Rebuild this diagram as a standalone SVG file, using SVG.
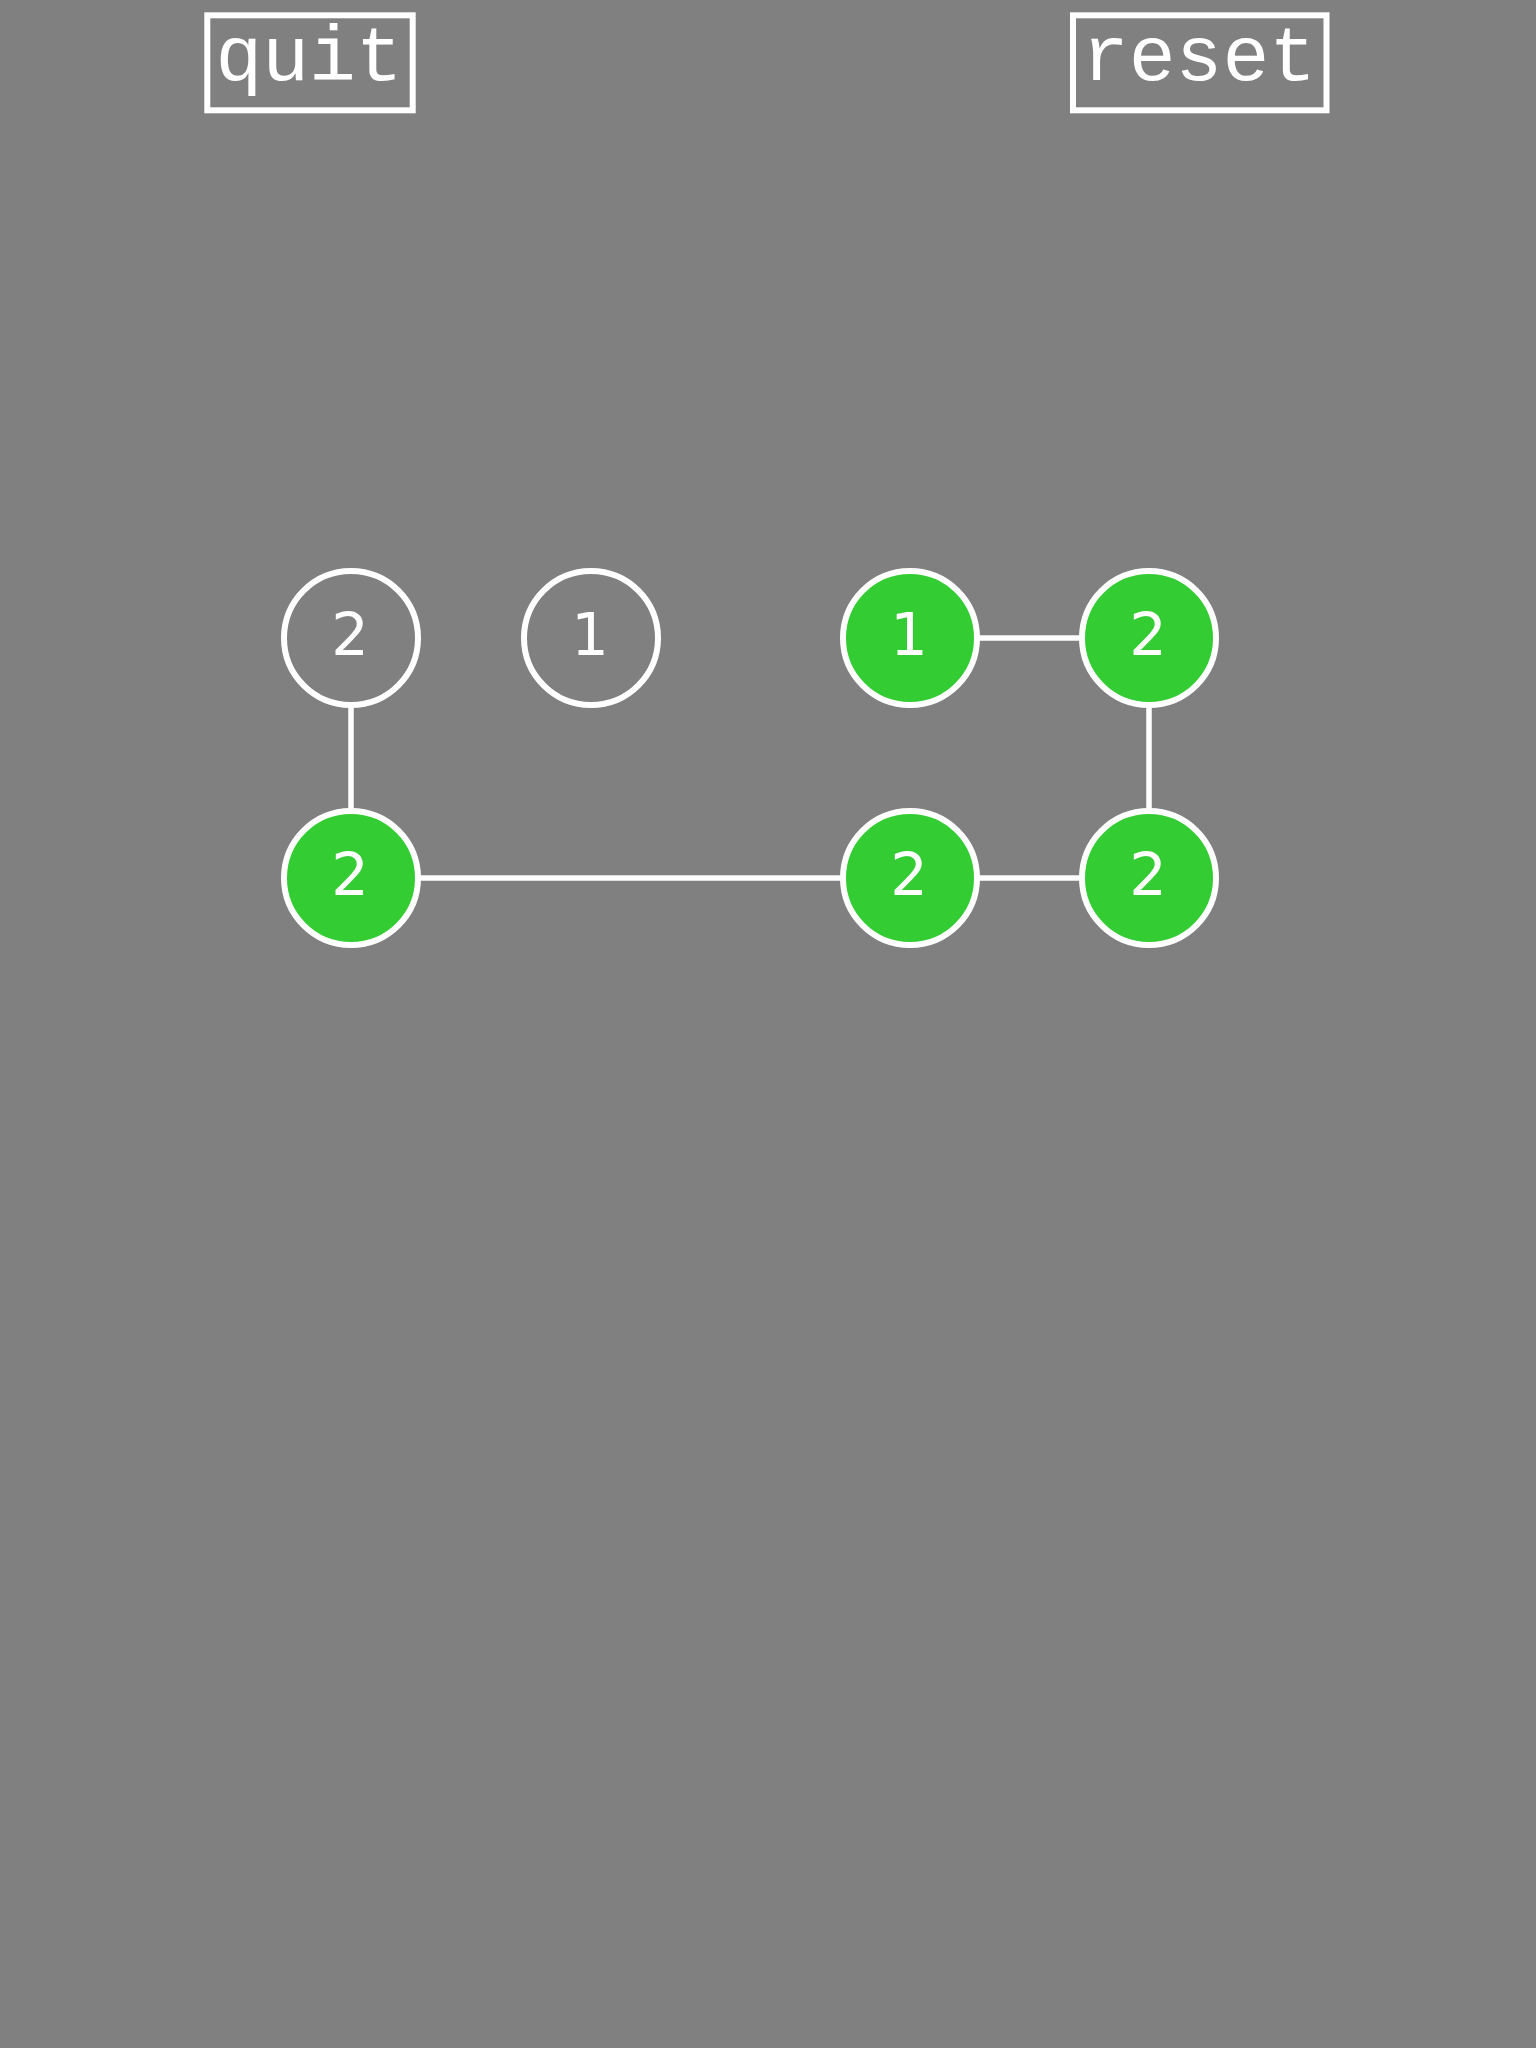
<svg xmlns="http://www.w3.org/2000/svg" width="1536" height="2048" viewBox="0 0 1536 2048">
<style>
.btn{fill:none;stroke:#fff;stroke-width:6}
.btxt{font-family:"Liberation Mono",monospace;font-size:78px;fill:#fff;text-anchor:middle}
.edge{stroke:#fff;stroke-width:5.5;fill:none}
.node{stroke:#fff;stroke-width:6}
.off{fill:#808080}
.on{fill:#33cc33}
.num{font-family:"DejaVu Sans",sans-serif;font-size:59px;fill:#fff;text-anchor:middle}
</style>
<rect width="1536" height="2048" fill="#808080"/>
<g id="connectors">
<line class="edge" x1="351" y1="638" x2="351" y2="878"/>
<line class="edge" x1="351" y1="878" x2="1149" y2="878"/>
<line class="edge" x1="910" y1="638" x2="1149" y2="638"/>
<line class="edge" x1="1149" y1="638" x2="1149" y2="878"/>
</g>
<g id="quit">
<rect class="btn" x="207.3" y="15.3" width="205.4" height="95"/>
<text class="btxt" x="309" y="80">quit</text>
</g>
<g id="reset">
<rect class="btn" x="1073" y="15.3" width="253.5" height="95"/>
<text class="btxt" x="1199" y="80">reset</text>
</g>
<g id="n1"><circle class="node off" cx="351" cy="638" r="67"/><text class="num" x="350" y="655">2</text></g>
<g id="n2"><circle class="node off" cx="591" cy="638" r="67"/><text class="num" x="590" y="655">1</text></g>
<g id="n3"><circle class="node on" cx="910" cy="638" r="67"/><text class="num" x="909" y="655">1</text></g>
<g id="n4"><circle class="node on" cx="1149" cy="638" r="67"/><text class="num" x="1148" y="655">2</text></g>
<g id="n5"><circle class="node on" cx="351" cy="878" r="67"/><text class="num" x="350" y="895">2</text></g>
<g id="n6"><circle class="node on" cx="910" cy="878" r="67"/><text class="num" x="909" y="895">2</text></g>
<g id="n7"><circle class="node on" cx="1149" cy="878" r="67"/><text class="num" x="1148" y="895">2</text></g>
</svg>
